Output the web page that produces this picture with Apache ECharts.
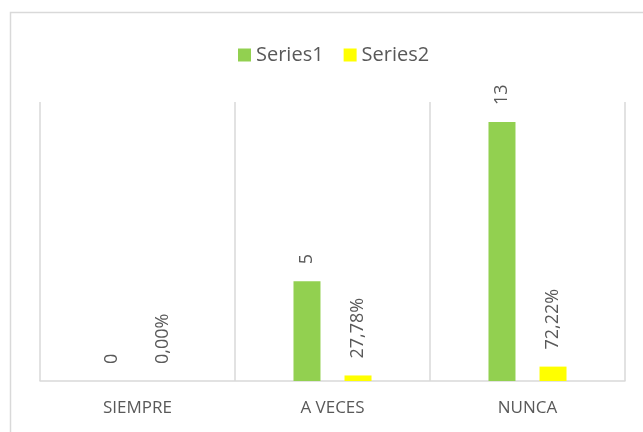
<!DOCTYPE html>
<html>
<head>
<meta charset="utf-8">
<script src="https://cdn.jsdelivr.net/npm/echarts@6/dist/echarts.min.js"></script>
<style>
  html, body { margin: 0; padding: 0; background: #fff; }
  #chart { width: 643px; height: 432px; }
</style>
</head>
<body>
<div id="chart"></div>
<script>
// data
const categories = ['SIEMPRE', 'A VECES', 'NUNCA']
const series1Values = [0, 5, 13]
const series2Values = [0, 0.2778, 0.7222]
const seriesNames = ['Series1', 'Series2']

const colors = {
  green: '#92D050',
  yellow: '#FFFF00',
  text: '#595959',
  line: '#D9D9D9'
}
const fontFamily = '"Open Sans", "Liberation Sans", sans-serif'

const labelBase = {
  show: true,
  position: 'top',
  rotate: 90,
  align: 'left',
  verticalAlign: 'middle',
  distance: 17,
  color: colors.text,
  fontSize: 18,
  fontFamily
}

const chart = echarts.init(document.getElementById('chart'))
chart.setOption({
  animation: false,
  graphic: [
    {
      type: 'rect',
      shape: { x: 10.5, y: 12.5, width: 700, height: 500 },
      style: { fill: 'none', stroke: colors.line, lineWidth: 1.5 },
      silent: true
    }
  ],
  legend: {
    left: 233,
    top: 40,
    itemWidth: 13,
    itemHeight: 13,
    itemGap: 20,
    icon: 'rect',
    textStyle: { color: colors.text, fontSize: 20, fontFamily },
    data: seriesNames
  },
  grid: { left: 40, right: 18, top: 102, bottom: 51 },
  xAxis: {
    type: 'category',
    data: categories,
    axisTick: { show: false },
    axisLine: { lineStyle: { color: colors.line, width: 1.5 } },
    splitLine: { show: true, lineStyle: { color: colors.line, width: 1.5 } },
    axisLabel: { color: colors.text, fontSize: 17, fontFamily, margin: 19 }
  },
  yAxis: {
    type: 'value',
    min: 0,
    max: 14,
    show: false
  },
  series: [
    {
      name: seriesNames[0],
      type: 'bar',
      data: series1Values,
      barWidth: 27,
      barGap: '89%',
      itemStyle: { color: colors.green },
      label: { ...labelBase, formatter: p => String(p.value) }
    },
    {
      name: seriesNames[1],
      type: 'bar',
      data: series2Values,
      barWidth: 27,
      itemStyle: { color: colors.yellow },
      label: {
        ...labelBase,
        formatter: p => (p.value * 100).toFixed(2).replace('.', ',') + '%'
      }
    }
  ]
})
</script>
</body>
</html>
